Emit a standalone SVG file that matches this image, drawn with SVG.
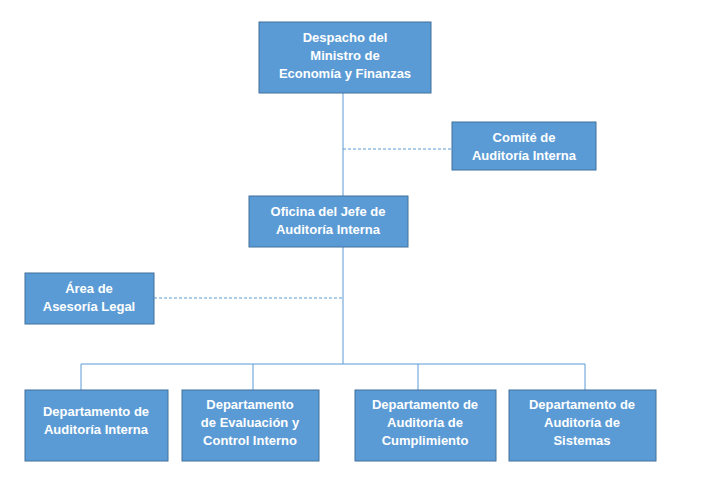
<svg xmlns="http://www.w3.org/2000/svg" width="705" height="479" viewBox="0 0 705 479">
<style>
.b{fill:#5b9bd5;stroke:#41719c;stroke-width:1}
.t{font-family:"Liberation Sans",Arial,sans-serif;font-size:13px;font-weight:bold;fill:#fff;text-anchor:middle}
.l{stroke:#5b9bd5;stroke-width:1;fill:none}
.d{stroke:#5b9bd5;stroke-width:1;stroke-dasharray:3,2;fill:none}
</style>
<rect width="705" height="479" fill="#fff"/>
<g id="connectors">
<path class="l" d="M343 93V196M343 247V364M81 364H585M81 364V390M253 364V390M418 364V390M585 364V390"/>
<path class="d" d="M343 149H452M154 298H343"/>
</g>
<g id="despacho"><rect class="b" x="259" y="22" width="172" height="71"/>
<text class="t"><tspan x="345" y="42">Despacho del</tspan><tspan x="345" y="60">Ministro de</tspan><tspan x="345" y="78">Economía y Finanzas</tspan></text></g>
<g id="comite"><rect class="b" x="452" y="122" width="144" height="48"/>
<text class="t"><tspan x="524" y="142">Comité de</tspan><tspan x="524" y="160">Auditoría Interna</tspan></text></g>
<g id="oficina"><rect class="b" x="249" y="196" width="159" height="51"/>
<text class="t"><tspan x="328" y="216">Oficina del Jefe de</tspan><tspan x="328" y="234">Auditoría Interna</tspan></text></g>
<g id="area"><rect class="b" x="25" y="273" width="129" height="51"/>
<text class="t"><tspan x="89" y="293">Área de</tspan><tspan x="89" y="311">Asesoría Legal</tspan></text></g>
<g id="dai"><rect class="b" x="25" y="390" width="143" height="71"/>
<text class="t"><tspan x="96" y="416">Departamento de</tspan><tspan x="96" y="434">Auditoría Interna</tspan></text></g>
<g id="deci"><rect class="b" x="182" y="390" width="137" height="71"/>
<text class="t"><tspan x="250" y="409">Departamento</tspan><tspan x="250" y="427">de Evaluación y</tspan><tspan x="250" y="445">Control Interno</tspan></text></g>
<g id="dac"><rect class="b" x="355" y="390" width="141" height="71"/>
<text class="t"><tspan x="425" y="409">Departamento de</tspan><tspan x="425" y="427">Auditoría de</tspan><tspan x="425" y="445">Cumplimiento</tspan></text></g>
<g id="das"><rect class="b" x="509" y="390" width="147" height="71"/>
<text class="t"><tspan x="582" y="409">Departamento de</tspan><tspan x="582" y="427">Auditoría de</tspan><tspan x="582" y="445">Sistemas</tspan></text></g>
</svg>
